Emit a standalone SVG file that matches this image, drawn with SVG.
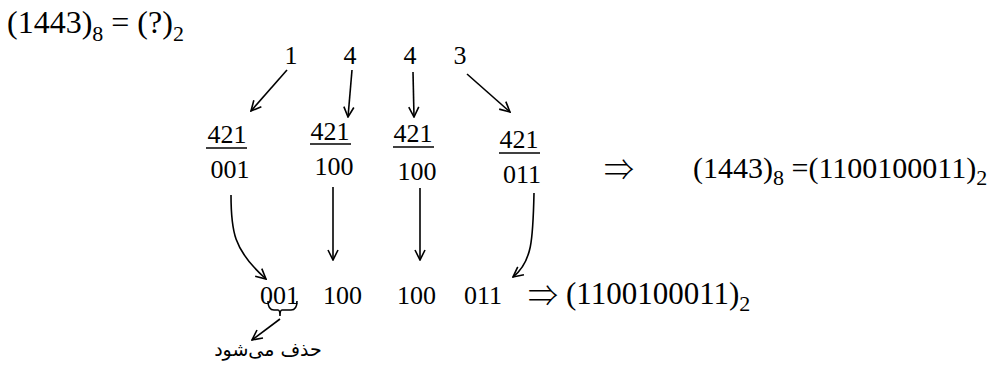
<svg xmlns="http://www.w3.org/2000/svg" width="992" height="365" viewBox="0 0 992 365">
<style>
.t{font-family:"Liberation Serif","Tinos","Times New Roman","DejaVu Serif",serif;font-size:26px;fill:#000}
.f{font-size:31px}
.s{font-size:22px}
.arw{font-family:"Noto Sans CJK SC","DejaVu Sans",sans-serif;font-weight:300;font-size:30px;fill:#000}
.c{fill:none;stroke:#000;stroke-width:1.6}
.u{stroke:#000;stroke-width:1.6}
.ar{font-family:"DejaVu Sans","Noto Sans",sans-serif;font-size:19px;fill:#000}
</style>
<defs>
<marker id="ah" viewBox="0 0 12 12" refX="11" refY="6" markerWidth="12" markerHeight="12" markerUnits="userSpaceOnUse" orient="auto">
<path d="M1,1 L11,6 L1,11" fill="none" stroke="#000" stroke-width="1.6"/>
</marker>
</defs>
<rect width="992" height="365" fill="#fff"/>
<g id="title">
<text class="t" x="7" y="33" style="font-size:32px">(1443)<tspan class="s" dy="8">8</tspan><tspan dy="-8"> = (?)</tspan><tspan class="s" dy="8">2</tspan></text>
</g>
<g id="digits">
<text class="t" x="291" y="64" text-anchor="middle">1</text>
<text class="t" x="350" y="64" text-anchor="middle">4</text>
<text class="t" x="410" y="64" text-anchor="middle">4</text>
<text class="t" x="460" y="64" text-anchor="middle">3</text>
</g>
<g id="col1">
<text class="t" x="227" y="143" text-anchor="middle">421</text>
<line class="u" x1="206" y1="148" x2="247" y2="148"/>
<text class="t" x="230" y="178" text-anchor="middle">001</text>
</g>
<g id="col2">
<text class="t" x="330" y="140" text-anchor="middle">421</text>
<line class="u" x1="310" y1="144" x2="351" y2="144"/>
<text class="t" x="334" y="175" text-anchor="middle">100</text>
</g>
<g id="col3">
<text class="t" x="413" y="142" text-anchor="middle">421</text>
<line class="u" x1="393" y1="147" x2="434" y2="147"/>
<text class="t" x="417" y="180" text-anchor="middle">100</text>
</g>
<g id="col4">
<text class="t" x="519" y="148" text-anchor="middle">421</text>
<line class="u" x1="499" y1="153" x2="540" y2="153"/>
<text class="t" x="522" y="183" text-anchor="middle">011</text>
</g>
<g id="result1">
<text class="arw" x="604" y="180">⇒</text>
<text class="t" x="693" y="178" style="font-size:30px">(1443)<tspan class="s" dy="7">8</tspan><tspan dy="-7"> =(1100100011)</tspan><tspan class="s" dy="7">2</tspan></text>
</g>
<g id="bottom">
<text class="t" x="260" y="304">001</text>
<text class="t" x="323" y="304">100</text>
<text class="t" x="397" y="304">100</text>
<text class="t" x="464" y="304">011</text>
<text class="arw" x="528" y="306">⇒</text>
<text class="t f" x="566" y="304">(1100100011)<tspan class="s" dy="7">2</tspan></text>
</g>
<g id="brace">
<path class="c" d="M268,301 Q268,310 274,310 L278,310 Q280,310 280,316 Q280,310 282,310 L291,310 Q297,310 297,301"/>
</g>
<g id="label">
<text class="ar" x="268" y="356" text-anchor="middle" direction="rtl">حذف می‌شود</text>
</g>
<g id="connectors">
<line class="c" x1="287" y1="70" x2="251" y2="111" marker-end="url(#ah)"/>
<line class="c" x1="352" y1="70" x2="348" y2="117" marker-end="url(#ah)"/>
<line class="c" x1="413" y1="72" x2="414" y2="117" marker-end="url(#ah)"/>
<line class="c" x1="467" y1="74" x2="510" y2="112" marker-end="url(#ah)"/>
<path class="c" d="M231,195 C231,230 233,250 266,279" marker-end="url(#ah)"/>
<line class="c" x1="333" y1="187" x2="333" y2="260" marker-end="url(#ah)"/>
<line class="c" x1="420" y1="188" x2="420" y2="260" marker-end="url(#ah)"/>
<path class="c" d="M534,193 C533,240 532,262 513,277" marker-end="url(#ah)"/>
<line class="c" x1="280" y1="319" x2="252" y2="340" marker-end="url(#ah)"/>
</g>
</svg>
